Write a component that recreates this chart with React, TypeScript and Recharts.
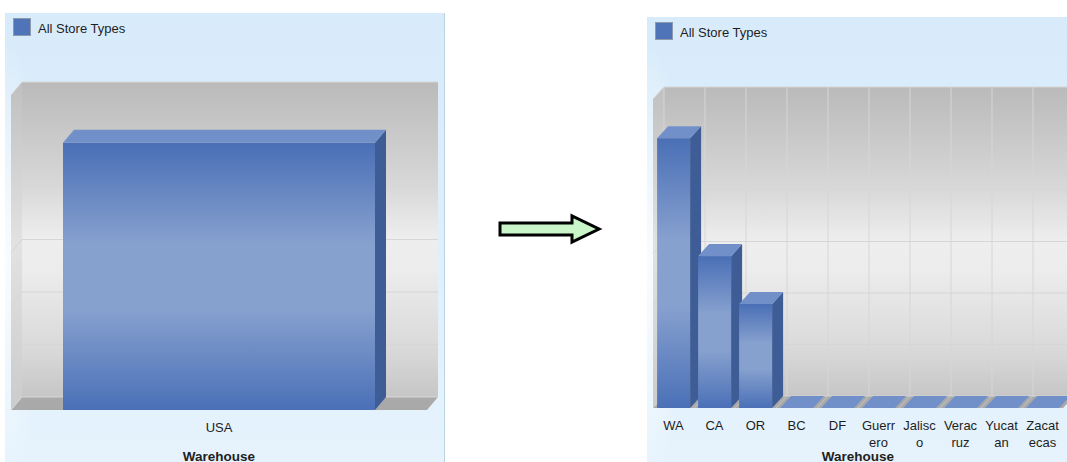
import { Bar, BarChart, CartesianGrid, Legend, XAxis, YAxis } from "recharts";

const usaCategories = ["USA"];
const usaValues = [101800];
// the source shows no grid line at the fifth step
const usaTicks = [0, 20000, 40000, 60000, 80000, 120000];

const stateCategories = ["WA", "CA", "OR", "BC", "DF", "Guerrero", "Jalisco", "Veracruz", "Yucatan", "Zacatecas"];
const stateValues = [52400, 29500, 20200, 0, 0, 0, 0, 0, 0, 0];
const stateTicks = [0, 10000, 20000, 30000, 40000, 60000];

const seriesName = "All Store Types";
const axisTitle = "Warehouse";

const FONT = '"Liberation Sans", Arial, sans-serif';
const LEGEND_H = 18;

let ctx: CanvasRenderingContext2D | null = null;
const measure = (s: string) => {
  if (!ctx) ctx = document.createElement("canvas").getContext("2d");
  if (!ctx) return s.length * 7;
  ctx.font = `13px ${FONT}`;
  return ctx.measureText(s).width;
};

// break category names by character once they get wider than the column
const wrapLabel = (s: string, max = 36) => {
  const lines: string[] = [];
  let cur = "";
  for (const ch of s) {
    if (cur && measure(cur + ch) > max) {
      lines.push(cur);
      cur = ch;
    } else cur += ch;
  }
  if (cur) lines.push(cur);
  return lines;
};

type Plot = { left: number; top: number; right: number; bottom: number };

type PanelProps = {
  id: string;
  categories: string[];
  values: number[];
  ticks: number[];
  width: number;
  height: number;
  plot: Plot;
  dx: number;
  dy: number;
  gap: string;
  columns: boolean;
};

function Panel({ id, categories, values, ticks, width, height, plot, dx, dy, gap, columns }: PanelProps) {
  const data = categories.map((name, i) => ({ name, value: values[i] }));
  const { left, top, right, bottom } = plot;
  const gridStroke = "#d6d6d6";

  const boxShape = (props: any) => {
    const { x, y, width: w, height: h } = props;
    const x2 = x + w;
    const y2 = y + h;
    return (
      <g>
        {h > 0 && <rect x={x} y={y} width={w} height={h} fill={`url(#${id}-front)`} />}
        {h > 0 && (
          <polygon points={`${x2},${y} ${x2 + dx},${y - dy} ${x2 + dx},${y2 - dy} ${x2},${y2}`} fill="#3e5d97" />
        )}
        <polygon points={`${x},${y} ${x + dx},${y - dy} ${x2 + dx},${y - dy} ${x2},${y}`} fill="#7190c9" />
      </g>
    );
  };

  const hLine = (p: any) => (
    <g key={`h-${p.y1}`}>
      <line x1={p.x1} y1={p.y1} x2={p.x1 + dx} y2={p.y1 - dy} stroke={gridStroke} />
      <line x1={p.x1 + dx} y1={p.y1 - dy} x2={p.x2 + dx} y2={p.y1 - dy} stroke={gridStroke} />
    </g>
  );

  const vLine = (p: any) => (
    <g key={`v-${p.x1}`}>
      <line x1={p.x1 + dx} y1={p.y1 - dy} x2={p.x1 + dx} y2={p.y2 - dy} stroke={gridStroke} />
      <line x1={p.x1 + dx} y1={p.y2 - dy} x2={p.x1} y2={p.y2} stroke="#c4c4c4" />
    </g>
  );

  const tick = (p: any) => {
    const lines = wrapLabel(String(p.payload.value));
    return (
      <text x={p.x} y={p.y + 22} textAnchor="middle" fontSize={13} fontFamily={FONT} fill="#1e1e1e">
        {lines.map((l, i) => (
          <tspan key={i} x={p.x} dy={i === 0 ? 0 : 16.5}>
            {l}
          </tspan>
        ))}
      </text>
    );
  };

  return (
    <div style={{ position: "relative", width, height }}>
      <svg width={width} height={height} style={{ position: "absolute", left: 0, top: 0 }}>
        <defs>
          <linearGradient id={`${id}-wall`} x1="0" y1="0" x2="0" y2="1">
            <stop offset="0" stopColor="#bababa" />
            <stop offset="0.33" stopColor="#d8d8d8" />
            <stop offset="0.5" stopColor="#eeeeee" />
            <stop offset="0.6" stopColor="#ececec" />
            <stop offset="0.85" stopColor="#d9d9d9" />
            <stop offset="1" stopColor="#c6c6c6" />
          </linearGradient>
          <linearGradient id={`${id}-side`} x1="0" y1="0" x2="0" y2="1">
            <stop offset="0" stopColor="#c0c0c0" />
            <stop offset="0.5" stopColor="#e2e2e2" />
            <stop offset="1" stopColor="#cbcbcb" />
          </linearGradient>
        </defs>
        <rect x={left + dx} y={top - dy} width={right - left} height={bottom - top} fill={`url(#${id}-wall)`} />
        <polygon
          points={`${left},${top} ${left + dx},${top - dy} ${left + dx},${bottom - dy} ${left},${bottom}`}
          fill={`url(#${id}-side)`}
        />
        <polygon
          points={`${left},${bottom} ${left + dx},${bottom - dy} ${right + dx},${bottom - dy} ${right},${bottom}`}
          fill="#a9a9a9"
        />
      </svg>
      <BarChart
        width={width}
        height={height}
        data={data}
        margin={{ top: top - LEGEND_H, left, right: width - right, bottom: 0 }}
        barCategoryGap={gap}
        style={{ position: "absolute", left: 0, top: 0 }}
      >
        <defs>
          <linearGradient id={`${id}-front`} x1="0" y1="0" x2="0" y2="1">
            <stop offset="0" stopColor="#4a6fb6" />
            <stop offset="0.38" stopColor="#87a1cf" />
            <stop offset="0.62" stopColor="#87a1cf" />
            <stop offset="1" stopColor="#4b70b7" />
          </linearGradient>
        </defs>
        <Legend
          verticalAlign="top"
          align="left"
          wrapperStyle={{ top: 5, left: 8, height: LEGEND_H, width: "auto" }}
          content={() => (
            <div style={{ display: "flex", alignItems: "center", height: LEGEND_H, fontFamily: FONT, fontSize: 13, color: "#1e1e1e" }}>
              <span style={{ width: 16, height: 16, background: "#4f74b8", border: "1px solid #8c9ab0", display: "inline-block" }} />
              <span style={{ marginLeft: 7, marginTop: 2 }}>{seriesName}</span>
            </div>
          )}
        />
        <CartesianGrid
          horizontal={hLine}
          vertical={columns ? vLine : false}
          verticalCoordinatesGenerator={({ offset }: any) => {
            const o = offset ?? { left, width: right - left };
            return categories.map((_, i) => o.left + (o.width * i) / categories.length);
          }}
        />
        <XAxis
          dataKey="name"
          interval={0}
          tickLine={false}
          axisLine={false}
          tickSize={0}
          tickMargin={0}
          height={height - bottom}
          tick={tick}
          label={{ value: axisTitle, position: "insideBottom", offset: 1, fontSize: 13.5, fontWeight: "bold", fontFamily: FONT, fill: "#1e1e1e" }}
        />
        <YAxis hide domain={[0, ticks[ticks.length - 1]]} ticks={ticks} />
        <Bar dataKey="value" name={seriesName} fill="#4f74b8" shape={boxShape} isAnimationActive={false} />
      </BarChart>
    </div>
  );
}

const panelBg =
  "radial-gradient(ellipse 40px 220px at 0% 55%, rgba(255,255,255,0.85), rgba(255,255,255,0)), linear-gradient(180deg, #d8ebfa 0%, #dfeffc 55%, #e6f3fd 100%)";

export default function App() {
  return (
    <div style={{ position: "absolute", left: 0, top: 0, width: 1067, height: 462, overflow: "hidden", background: "#fff" }}>
      <div style={{ position: "absolute", left: 5, top: 13, width: 439, height: 449, background: panelBg, borderRight: "1px solid #b9d3e2" }}>
        <Panel
          id="usa"
          categories={usaCategories}
          values={usaValues}
          ticks={usaTicks}
          width={439}
          height={449}
          plot={{ left: 6, top: 82, right: 422, bottom: 397 }}
          dx={11}
          dy={13}
          gap="12.5%"
          columns={false}
        />
      </div>
      <svg width={120} height={40} style={{ position: "absolute", left: 490, top: 209 }}>
        <polygon points="10,14 82,14 82,7 109,20 82,33 82,26 10,26" fill="#c9f5c9" stroke="#000" strokeWidth={3} strokeLinejoin="miter" />
      </svg>
      <div style={{ position: "absolute", left: 647, top: 17, width: 440, height: 445, background: panelBg }}>
        <Panel
          id="states"
          categories={stateCategories}
          values={stateValues}
          ticks={stateTicks}
          width={440}
          height={445}
          plot={{ left: 6, top: 82, right: 416, bottom: 391 }}
          dx={11}
          dy={12}
          gap="10%"
          columns={true}
        />
      </div>
    </div>
  );
}
